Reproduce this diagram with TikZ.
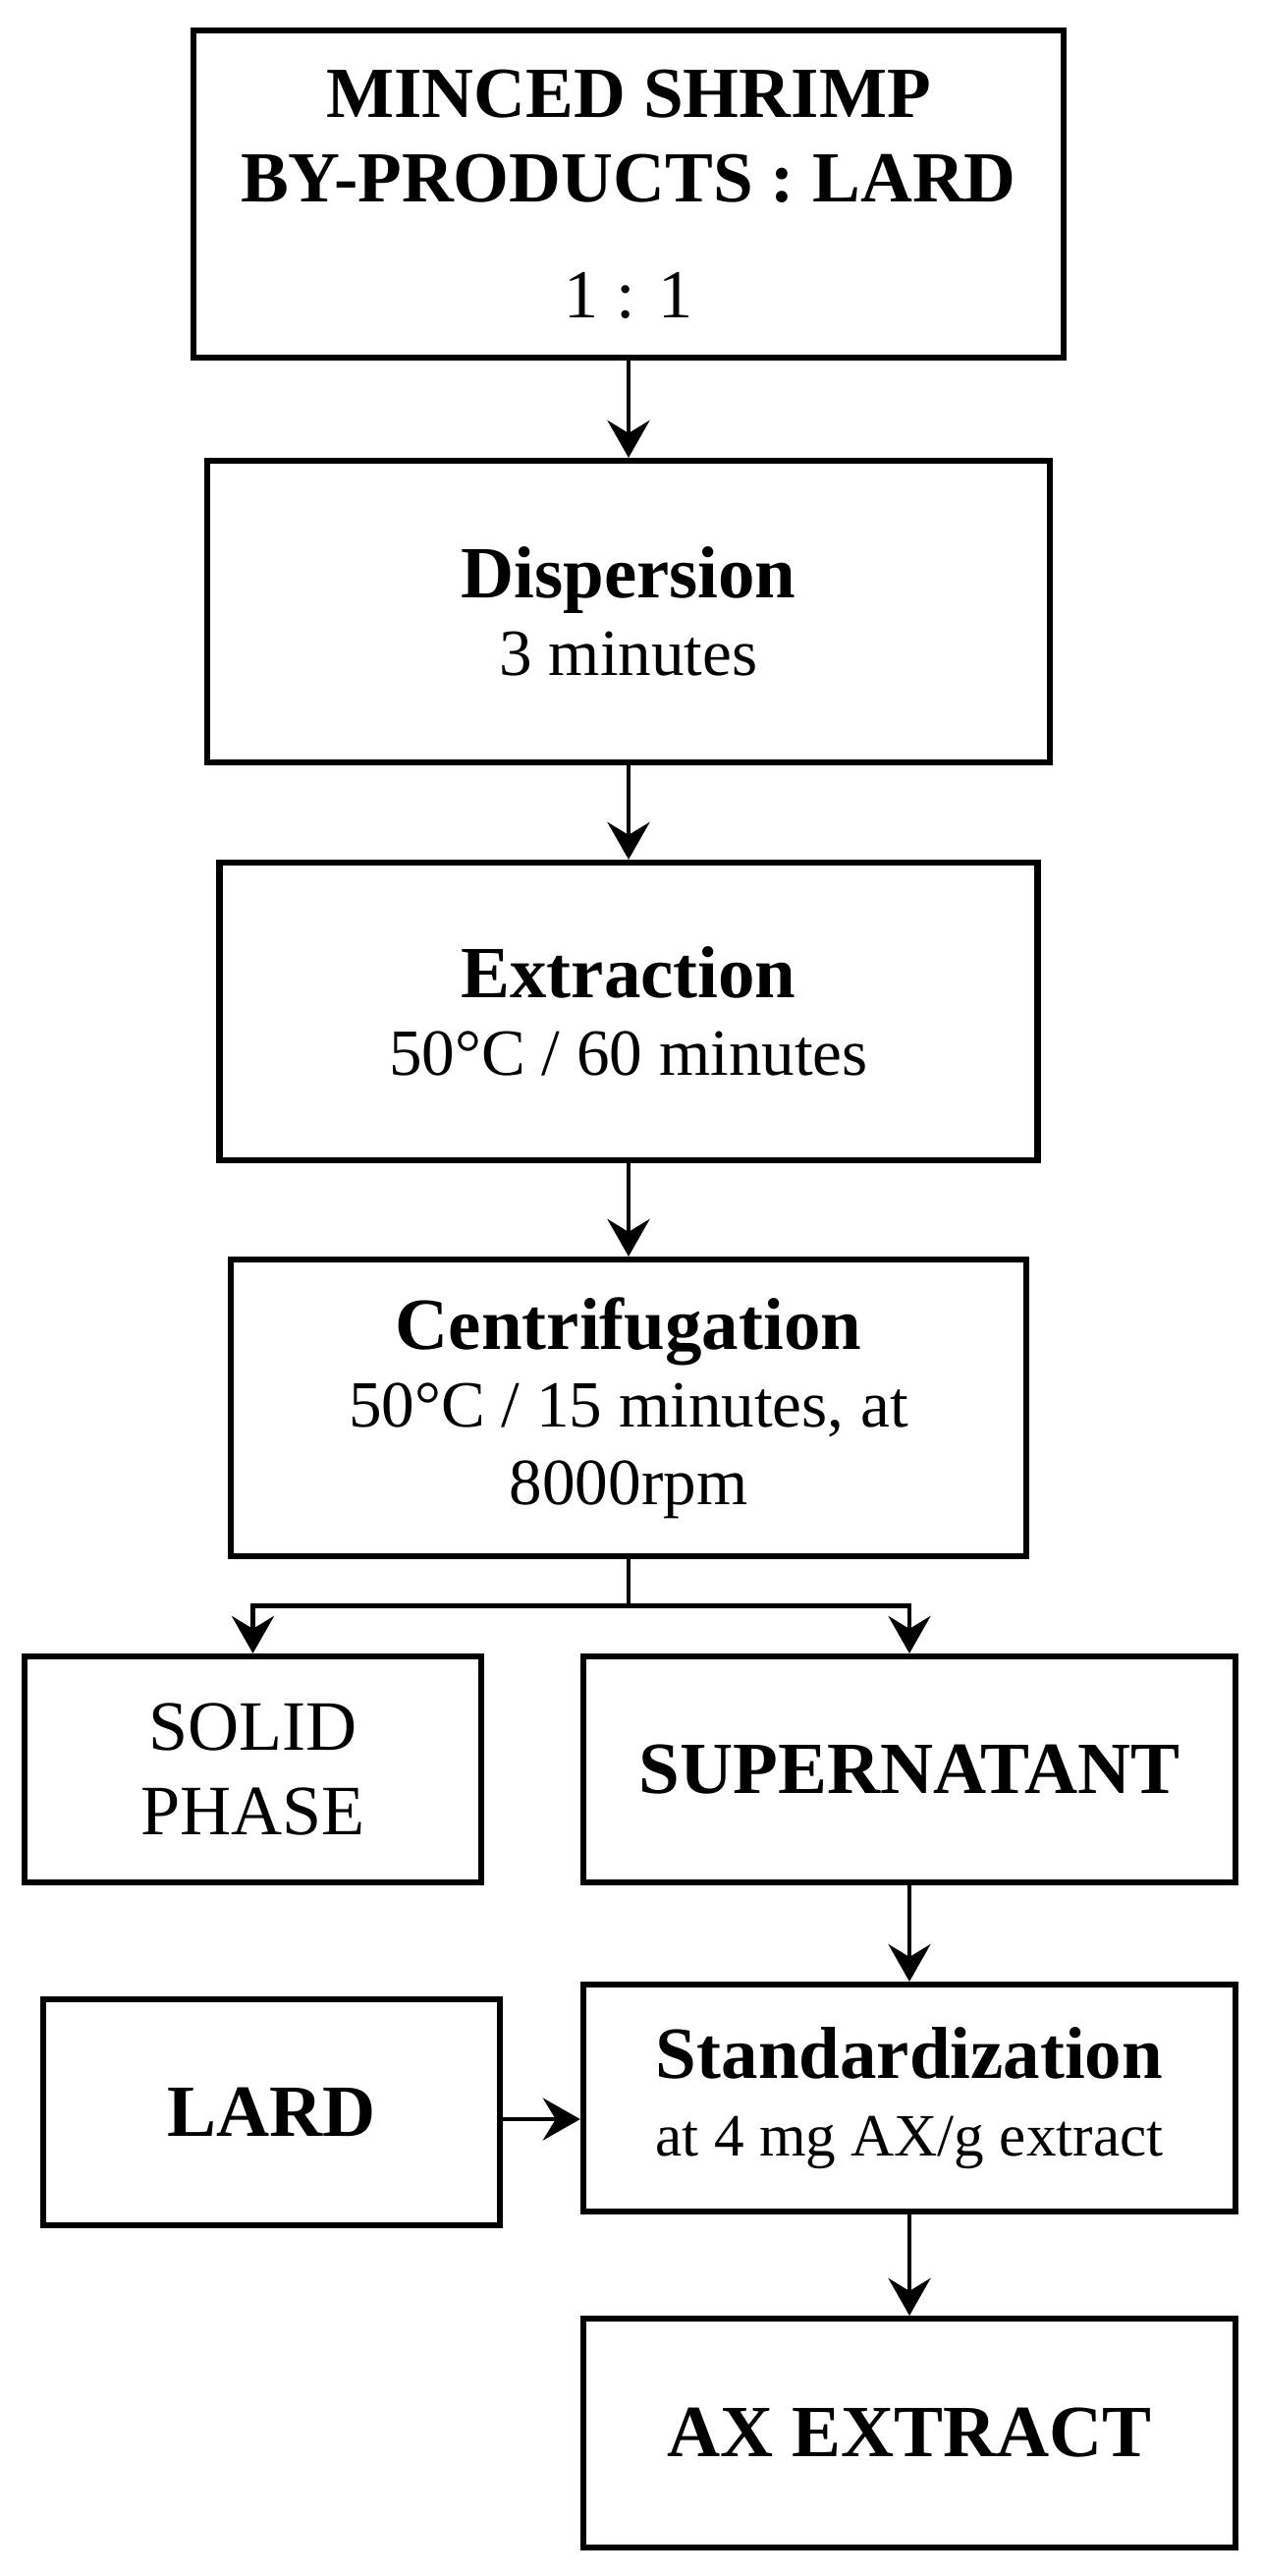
\documentclass[tikz,border=0pt]{standalone}
\usepackage{fontspec}
\setmainfont{Liberation Serif}
\usepackage{xcolor}
\usepackage{tikz}
\usetikzlibrary{arrows.meta,positioning}
\definecolor{ink}{HTML}{000000}
\definecolor{paper}{HTML}{FFFFFF}
\tikzset{
  StepBox/.style={
    draw=ink, line width=1.85pt,
    align=center, inner sep=0pt,
    font=\fontsize{19.1pt}{22.5pt}\selectfont
  },
  Flow/.style={
    draw=ink, line width=1.3pt,
    -{Stealth[length=0.38cm, width=0.43cm, inset=0.13cm]}
  },
  Stem/.style={draw=ink, line width=1.3pt}
}
% bold step title and the smaller note below it
\newcommand{\StepHead}{\fontsize{21.3pt}{22.5pt}\selectfont\bfseries}
\newcommand{\StepNote}{\fontsize{17.4pt}{22.5pt}\selectfont}

\begin{document}
\begin{tikzpicture}[x=0.01cm, y=-0.01cm, line cap=butt, line join=miter]
  \path[fill=paper] (0,0) rectangle (1284,2622);

  \coordinate (P1) at (640,197.5);
  \coordinate (P2) at (640,622.5);
  \coordinate (P3) at (640,1029.5);
  \coordinate (P4) at (640,1433);
  \coordinate (P5) at (257.5,1801);
  \coordinate (P6) at (926,1801);
  \coordinate (P7) at (926,2135.5);
  \coordinate (P8) at (276.5,2150);
  \coordinate (P9) at (926,2476.5);

  \node[StepBox, minimum width=8.855cm, minimum height=3.325cm,
        font=\fontsize{20.8pt}{24.5pt}\selectfont] (mix) at (P1)
    {\bfseries MINCED SHRIMP\\\bfseries BY-PRODUCTS : LARD\\[9pt]%
     \fontsize{19.9pt}{24.5pt}\selectfont 1 : 1};
  \node[StepBox, minimum width=8.575cm, minimum height=3.065cm] (disp) at (P2)
    {{\StepHead Dispersion}\\3 minutes};
  \node[StepBox, minimum width=8.325cm, minimum height=3.025cm] (extr) at (P3)
    {{\StepHead Extraction}\\50°C / 60 minutes};
  \node[StepBox, minimum width=8.095cm, minimum height=3.015cm] (cent) at (P4)
    {{\StepHead Centrifugation}\\50°C / 15 minutes, at\\8000rpm};
  \node[StepBox, minimum width=4.645cm, minimum height=2.295cm,
        font=\fontsize{20.5pt}{24.5pt}\selectfont] (solid) at (P5)
    {SOLID\\PHASE};
  \node[StepBox, minimum width=6.635cm, minimum height=2.295cm] (super) at (P6)
    {\StepHead SUPERNATANT};
  \node[StepBox, minimum width=6.635cm, minimum height=2.305cm] (std) at (P7)
    {{\StepHead Standardization}\\{\StepNote at 4 mg AX/g extract}};
  \node[StepBox, minimum width=4.645cm, minimum height=2.295cm] (lard) at (P8)
    {\StepHead LARD};
  \node[StepBox, minimum width=6.635cm, minimum height=2.325cm] (ax) at (P9)
    {\StepHead AX EXTRACT};

  \draw[Flow] (mix) -- (disp);
  \draw[Flow] (disp) -- (extr);
  \draw[Flow] (extr) -- (cent);

  % split below the centrifuge
  \draw[Stem] (cent.south) -- ++(0,47.5) coordinate (split);
  \draw[Flow] (split) -| (solid.north);
  \draw[Flow] (split) -| (super.north);

  \draw[Flow] (super) -- (std);
  \draw[Flow] ([yshift=-0.07cm]lard.east) -- ([yshift=-0.07cm]lard.east -| std.west);
  \draw[Flow] (std) -- (ax);
\end{tikzpicture}
\end{document}
